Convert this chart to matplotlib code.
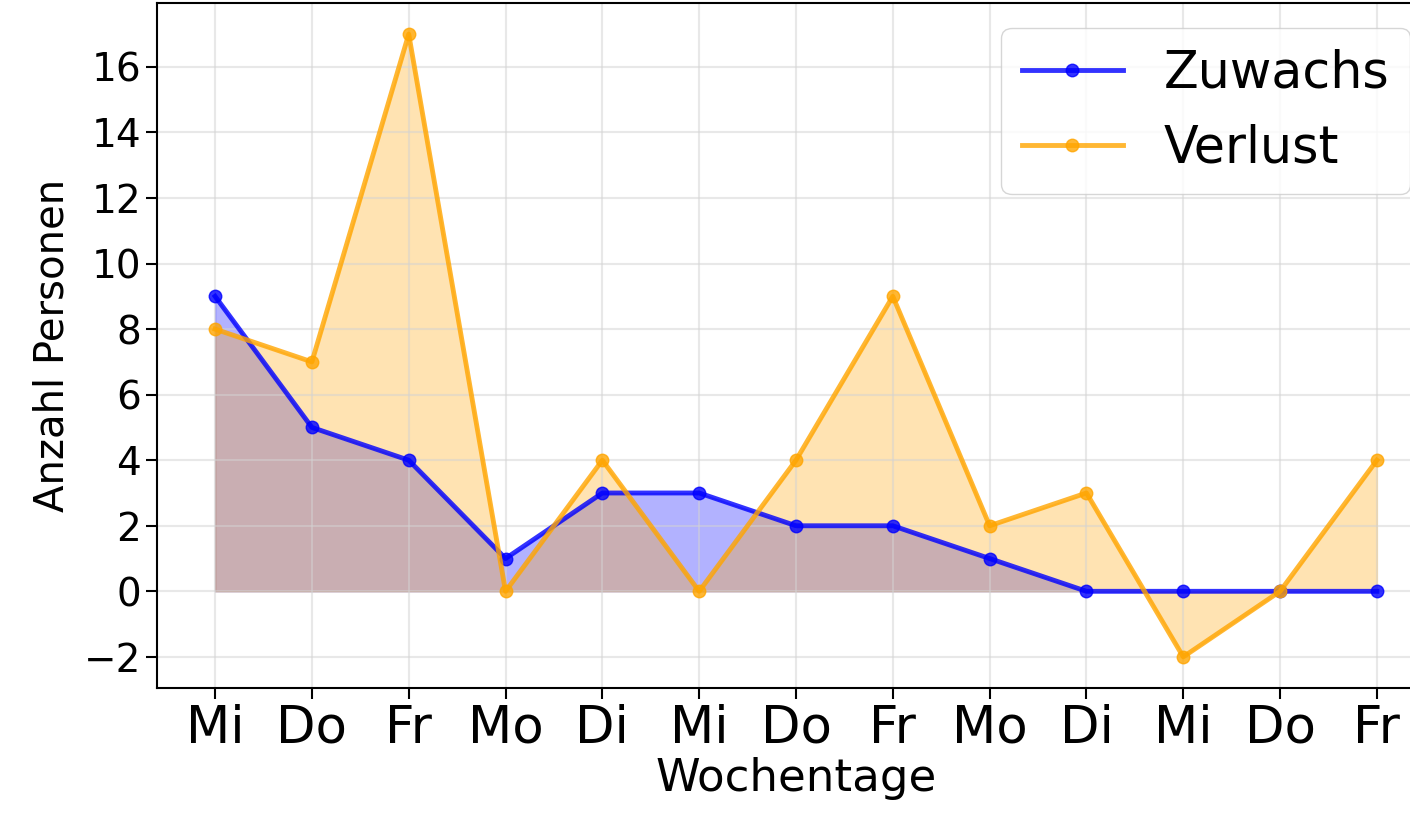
import numpy as np
import matplotlib
matplotlib.use("Agg")
import matplotlib.pyplot as plt
from matplotlib.ticker import MultipleLocator

# Daten
tage = ["Mi", "Do", "Fr", "Mo", "Di", "Mi", "Do", "Fr", "Mo", "Di", "Mi", "Do", "Fr"]
zuwachs = [9, 5, 4, 1, 3, 3, 2, 2, 1, 0, 0, 0, 0]
verlust = [8, 7, 17, 0, 4, 0, 4, 9, 2, 3, -2, 0, 4]

x = np.arange(len(tage))

fig = plt.figure(figsize=(14.10, 8.21), dpi=100)
ax = fig.add_axes([157 / 1410, 133 / 821, 1278 / 1410, 685 / 821])

ax.fill_between(x, zuwachs, 0, color="blue", alpha=0.3)
ax.fill_between(x, verlust, 0, color="orange", alpha=0.3)
ax.plot(x, zuwachs, color="blue", marker="o", markersize=9, linewidth=3.5,
        alpha=0.8, label="Zuwachs")
ax.plot(x, verlust, color="orange", marker="o", markersize=9, linewidth=3.5,
        alpha=0.8, label="Verlust")

ax.set_xticks(x)
ax.set_xticklabels(tage)
ax.yaxis.set_major_locator(MultipleLocator(2))
ax.tick_params(axis="x", labelsize=37, length=8, width=1.5)
ax.tick_params(axis="y", labelsize=28, length=8, width=1.5)
ax.set_xlabel("Wochentage", fontsize=32.5, labelpad=2)
ax.set_ylabel("Anzahl Personen", fontsize=29, labelpad=8)
ax.grid(True, color="lightgray", alpha=0.5, linewidth=1.5)
for s in ax.spines.values():
    s.set_linewidth(1.5)

ax.legend(loc="upper right", fontsize=36.5, labelspacing=0.5, borderpad=0.4)

fig.savefig("out.png", dpi=100)
